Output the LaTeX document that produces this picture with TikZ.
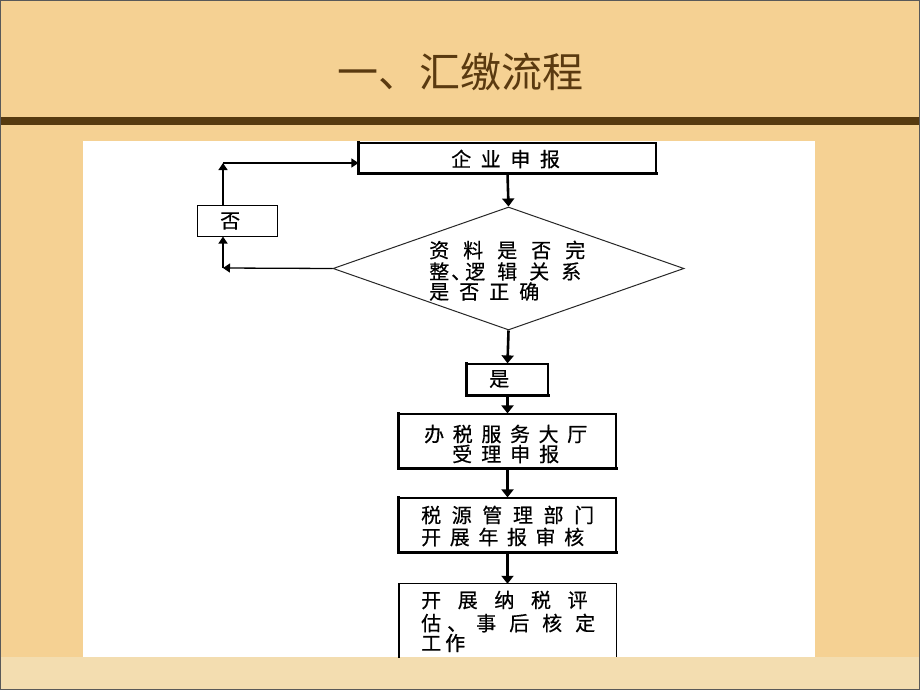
\documentclass[tikz,border=0pt]{standalone}
\usepackage{fontspec}
\usetikzlibrary{arrows.meta,shapes.geometric}
\newfontfamily\cjk{Noto Sans CJK SC}
\newfontfamily\cjkb[FakeBold=0.5]{Noto Sans CJK SC}
\newcommand{\ls}[1]{\addfontfeature{LetterSpace=#1}}
\definecolor{bgtan}{HTML}{F5D193}
\definecolor{bglight}{HTML}{F3DDB0}
\definecolor{titlebrown}{HTML}{5A3A10}
\definecolor{barbrown}{HTML}{563A10}
\tikzset{
  box/.style={draw=black, line width=1.2pt, fill=white, inner sep=0pt},
  flow/.style={line width=2.6pt, -{Triangle[length=8pt,width=12pt]}},
  loop/.style={line width=1.3pt, -{Triangle[length=7pt,width=9pt]}},
  thick edge/.style={line width=2.4pt, line cap=rect},
  txt/.style={inner sep=0pt, anchor=west, font=\cjkb\fontsize{20}{22}\selectfont}
}
\begin{document}
\begin{tikzpicture}[x=1pt,y=-1pt]
\useasboundingbox (0,0) rectangle (920,690);
% background
\fill[bgtan] (0,0) rectangle (920,690);
\fill[bglight] (0,657) rectangle (920,690);
\fill[barbrown] (0,117) rectangle (920,125);
\draw[gray!70!black, line width=2pt] (0,0) rectangle (920,690);
\node[text=titlebrown, font=\cjk\fontsize{41}{43}\selectfont, inner sep=0pt] (title) at (460,72) {一、汇缴流程};
% white panel
\fill[white] (83,141) rectangle (815,657);
% shapes
\node[box, minimum width=297pt, minimum height=30pt] (qy) at (507.5,158) {};
\node[draw=black!85, line width=1pt, diamond, inner sep=0pt, minimum width=351pt, minimum height=123pt, aspect=2.85] (dia) at (508.5,268.5) {};
\node[box, line width=1pt, minimum width=80pt, minimum height=31pt] (fou) at (237,220.5) {};
\node[box, minimum width=81pt, minimum height=31pt] (shi) at (507.5,379.5) {};
\node[box, minimum width=217pt, minimum height=54pt] (b1) at (507.5,441) {};
\node[box, minimum width=217pt, minimum height=54pt] (b2) at (507.5,525) {};
\node[inner sep=0pt, minimum width=217pt, minimum height=73pt] (b3) at (507.5,620.5) {};
\draw[line width=1.2pt] (b3.south west) -- (b3.north west) -- (b3.north east) -- (b3.south east);
% heavier left/bottom edges
\draw[thick edge] (qy.north west) -- (qy.south west) -- (qy.south east);
\draw[thick edge] (shi.north west) -- (shi.south west) -- (shi.south east);
\draw[thick edge] (b1.north west) -- (b1.south west) -- (b1.south east);
\draw[thick edge] (b2.north west) -- (b2.south west) -- (b2.south east);
\draw[thick edge] (b3.north west) -- (b3.south west);
% texts
\node[txt] (qyt) at (451,159) {\ls{48}企业申报};
\node[txt] (d1) at (429,250) {\ls{70}资料是否完};
\node[txt] (d2) at (429,271.5) {整\hspace{2pt}、\hspace{-6pt}逻\hspace{12pt}辑\hspace{12pt}关\hspace{12pt}系};
\node[txt] (d3) at (429,291.5) {\ls{50}是否正确};
\node[txt] (fout) at (220,221) {否};
\node[txt] (shit) at (489,379) {是};
\node[txt] (b1a) at (424,434) {\ls{43}办税服务大厅};
\node[txt] (b1b) at (452,454) {\ls{45}受理申报};
\node[txt] (b2a) at (421,515) {\ls{53}税源管理部门};
\node[txt] (b2b) at (421,537) {\ls{43}开展年报审核};
\node[txt] (b3a) at (421,600) {\ls{83}开展纳税评};
\node[txt] (b3b) at (421,623) {估\hspace{6pt}、\hspace{9pt}事\hspace{13pt}后\hspace{13pt}核\hspace{13pt}定};
\node[txt] (b3c) at (421,643) {\ls{20}工作};
% coordinates for loop
\coordinate (cl) at (223,268);
\coordinate (ct) at (223,163);
% connectors
\draw[flow] (qy.south) -- (dia.north);
\draw[flow] (dia.south) -- (shi.north);
\draw[flow] (shi.south) -- (b1.north);
\draw[flow] (b1.south) -- (b2.north);
\draw[flow] (b2.south) -- (b3.north);
\draw[loop] (dia.west) -- (cl);
\draw[loop] (cl) -- (cl |- fou.south);
\draw[loop] (cl |- fou.north) -- (ct);
\draw[loop] (ct) -- (ct -| qy.west);
\end{tikzpicture}
\end{document}
